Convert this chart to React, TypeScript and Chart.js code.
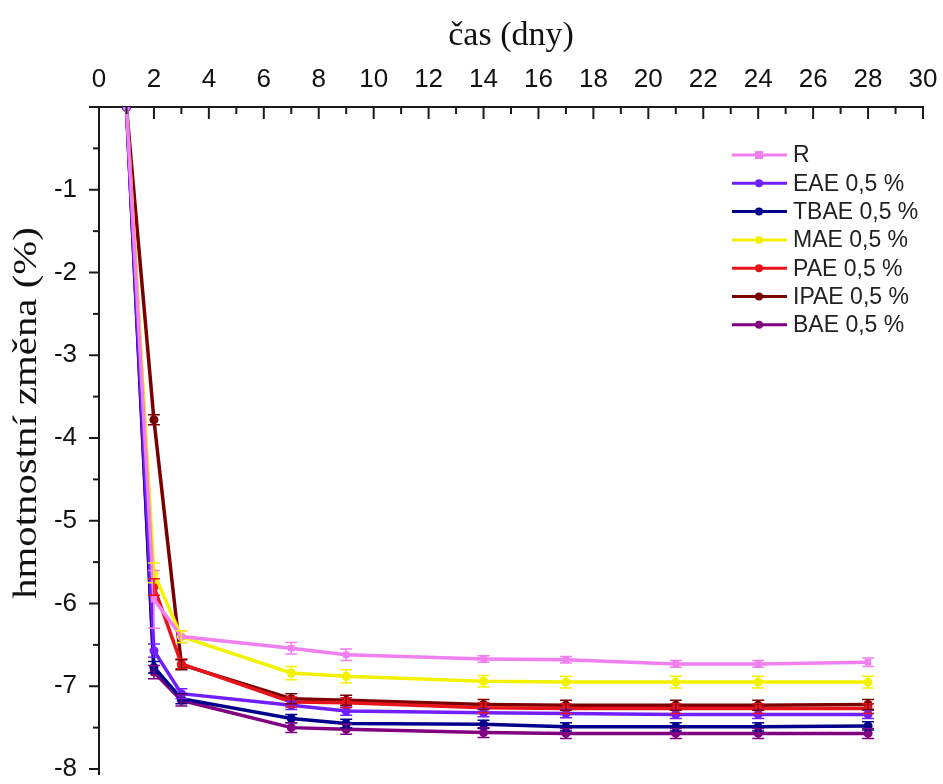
import React, { useEffect, useRef } from 'react';
import { Chart, registerables } from 'chart.js';

Chart.register(...registerables);

const days = [1, 2, 3, 7, 9, 14, 17, 21, 24, 28];
const seriesNames = ['R', 'EAE 0,5 %', 'TBAE 0,5 %', 'MAE 0,5 %', 'PAE 0,5 %', 'IPAE 0,5 %', 'BAE 0,5 %'];

const R = [0, -5.95, -6.4, -6.54, -6.62, -6.67, -6.68, -6.73, -6.73, -6.71];
const EAE = [0, -6.57, -7.09, -7.23, -7.3, -7.32, -7.33, -7.34, -7.34, -7.34];
const TBAE = [0, -6.77, -7.15, -7.39, -7.45, -7.46, -7.49, -7.49, -7.49, -7.48];
const MAE = [0, -5.63, -6.4, -6.84, -6.88, -6.94, -6.95, -6.95, -6.95, -6.95];
const PAE = [0, -5.8, -6.73, -7.19, -7.2, -7.26, -7.27, -7.27, -7.27, -7.27];
const IPAE = [0, -3.78, -6.74, -7.15, -7.17, -7.22, -7.23, -7.23, -7.23, -7.22];
const BAE = [0, -6.83, -7.17, -7.5, -7.52, -7.56, -7.57, -7.57, -7.57, -7.57];

const errR = [0, 0.35, 0.07, 0.07, 0.07, 0.04, 0.04, 0.04, 0.04, 0.05];
const errEAE = [0, 0.08, 0.06, 0.05, 0.05, 0.05, 0.05, 0.05, 0.05, 0.05];
const errTBAE = [0, 0.07, 0.06, 0.05, 0.05, 0.05, 0.05, 0.05, 0.05, 0.05];
const errMAE = [0, 0.12, 0.07, 0.08, 0.08, 0.07, 0.07, 0.07, 0.07, 0.07];
const errPAE = [0, 0.1, 0.06, 0.06, 0.06, 0.06, 0.06, 0.06, 0.06, 0.06];
const errIPAE = [0, 0.06, 0.06, 0.06, 0.06, 0.06, 0.06, 0.06, 0.06, 0.06];
const errBAE = [0, 0.08, 0.07, 0.06, 0.06, 0.06, 0.06, 0.06, 0.06, 0.06];

const seriesValues = [R, EAE, TBAE, MAE, PAE, IPAE, BAE];
const seriesErrors = [errR, errEAE, errTBAE, errMAE, errPAE, errIPAE, errBAE];
const seriesColors = ['#f07ff0', '#7020ff', '#00008c', '#f2f200', '#e8141a', '#7a0000', '#800080'];
const seriesPointStyles = ['rect', 'circle', 'circle', 'circle', 'circle', 'circle', 'circle'];

const xTickValues = [0, 2, 4, 6, 8, 10, 12, 14, 16, 18, 20, 22, 24, 26, 28, 30];
const yTickValues = [-8, -7, -6, -5, -4, -3, -2, -1];

const xTitle = 'čas (dny)';
const yTitle = 'hmotnostní změna (%)';

const errorBarPlugin = {
  id: 'errorBars',
  afterDatasetsDraw(chart: any) {
    const ctx = chart.ctx;
    const xs = chart.scales.x;
    const ys = chart.scales.y;
    ctx.save();
    chart.data.datasets.forEach((ds: any, i: number) => {
      const errs = seriesErrors[i];
      ctx.strokeStyle = ds.borderColor;
      ctx.lineWidth = 1.5;
      ds.data.forEach((p: any, j: number) => {
        const e = errs[j];
        if (!e) return;
        const x = xs.getPixelForValue(p.x);
        const y1 = ys.getPixelForValue(p.y + e);
        const y2 = ys.getPixelForValue(p.y - e);
        ctx.beginPath();
        ctx.moveTo(x, y1);
        ctx.lineTo(x, y2);
        ctx.moveTo(x - 6, y1);
        ctx.lineTo(x + 6, y1);
        ctx.moveTo(x - 6, y2);
        ctx.lineTo(x + 6, y2);
        ctx.stroke();
      });
    });
    ctx.restore();
  },
};

const decorPlugin = {
  id: 'decor',
  afterDraw(chart: any) {
    const ctx = chart.ctx;
    const xs = chart.scales.x;
    const ys = chart.scales.y;
    const area = chart.chartArea;
    ctx.save();
    ctx.strokeStyle = '#1a1a1a';
    ctx.lineWidth = 2;
    // top ticks (inward)
    for (let v = xs.min; v <= xs.max; v += 1) {
      const x = xs.getPixelForValue(v);
      const len = v % 2 === 0 ? 12 : 7;
      ctx.beginPath();
      ctx.moveTo(x, area.top);
      ctx.lineTo(x, area.top + len);
      ctx.stroke();
    }
    // left ticks (outward)
    for (let v = ys.min; v <= ys.max + 1e-9; v += 0.5) {
      const y = ys.getPixelForValue(v);
      const len = Math.abs(v % 1) < 1e-9 ? 10 : 6;
      ctx.beginPath();
      ctx.moveTo(area.left, y);
      ctx.lineTo(area.left - len, y);
      ctx.stroke();
    }
    // extend left axis slightly below -8
    ctx.beginPath();
    ctx.moveTo(area.left, area.bottom);
    ctx.lineTo(area.left, area.bottom + 6);
    ctx.stroke();
    // titles
    ctx.fillStyle = '#111';
    ctx.font = '34px "Liberation Serif", "Times New Roman", serif';
    ctx.textAlign = 'center';
    ctx.textBaseline = 'middle';
    ctx.fillText(xTitle, (area.left + area.right) / 2, 36);
    ctx.save();
    ctx.translate(27, 413);
    ctx.rotate(-Math.PI / 2);
    ctx.scale(1.2, 1);
    ctx.fillText(yTitle, 0, 0);
    ctx.restore();
    // legend
    const lx = area.right - 191;
    let ly = area.top + 48;
    ctx.font = '23px "Liberation Sans", Arial, sans-serif';
    ctx.textAlign = 'left';
    ctx.textBaseline = 'middle';
    chart.data.datasets.forEach((ds: any, i: number) => {
      ctx.strokeStyle = ds.borderColor;
      ctx.lineWidth = 3;
      ctx.beginPath();
      ctx.moveTo(lx, ly);
      ctx.lineTo(lx + 55, ly);
      ctx.stroke();
      ctx.fillStyle = ds.borderColor;
      ctx.beginPath();
      if (seriesPointStyles[i] === 'rect') {
        ctx.fillRect(lx + 23, ly - 4, 8, 8);
      } else {
        ctx.arc(lx + 27, ly, 4, 0, Math.PI * 2);
        ctx.fill();
      }
      ctx.fillStyle = '#222';
      ctx.fillText(ds.label, lx + 61, ly + 1);
      ly += 28.3;
    });
    ctx.restore();
  },
};

export default function App() {
  const canvasRef = useRef<HTMLCanvasElement | null>(null);

  useEffect(() => {
    if (!canvasRef.current) return;
    const datasets = seriesNames.map((name, i) => ({
      label: name,
      data: days.map((d, j) => ({ x: d, y: seriesValues[i][j] })),
      borderColor: seriesColors[i],
      backgroundColor: seriesColors[i],
      borderWidth: 3.5,
      pointRadius: 4.5,
      pointStyle: seriesPointStyles[i],
      pointBorderWidth: 0,
      tension: 0,
    }));
    const tickFont = { family: '"Liberation Sans", Arial, sans-serif', size: 26 };
    const chart = new Chart(canvasRef.current, {
      type: 'line',
      data: { datasets },
      plugins: [errorBarPlugin, decorPlugin],
      options: {
        animation: false,
        responsive: true,
        maintainAspectRatio: false,
        layout: { padding: { left: 0, top: 0, right: 20, bottom: 15 } },
        plugins: { legend: { display: false }, tooltip: { enabled: false } },
        scales: {
          x: {
            type: 'linear',
            position: 'top',
            min: 0,
            max: 30,
            afterBuildTicks: (s: any) => {
              s.ticks = xTickValues.map((v) => ({ value: v }));
            },
            afterFit: (s: any) => {
              s.height = 107;
              s.paddingLeft = 0;
              s.paddingRight = 0;
            },
            grid: { display: false, drawTicks: false },
            border: { display: true, color: '#1a1a1a', width: 2 },
            ticks: { font: tickFont, color: '#111', padding: 12, maxRotation: 0, autoSkip: false },
          },
          y: {
            type: 'linear',
            min: -8,
            max: 0,
            afterBuildTicks: (s: any) => {
              s.ticks = yTickValues.map((v) => ({ value: v }));
            },
            afterFit: (s: any) => {
              s.width = 99;
              s.paddingTop = 0;
              s.paddingBottom = 0;
            },
            grid: { display: false, drawTicks: false },
            border: { display: true, color: '#1a1a1a', width: 2 },
            ticks: { font: tickFont, color: '#111', padding: 22, autoSkip: false },
          },
        },
      },
    } as any);
    return () => chart.destroy();
  }, []);

  return (
    <div style={{ position: 'absolute', left: 0, top: 0, width: 943, height: 784, background: '#fff' }}>
      <canvas ref={canvasRef} />
    </div>
  );
}
